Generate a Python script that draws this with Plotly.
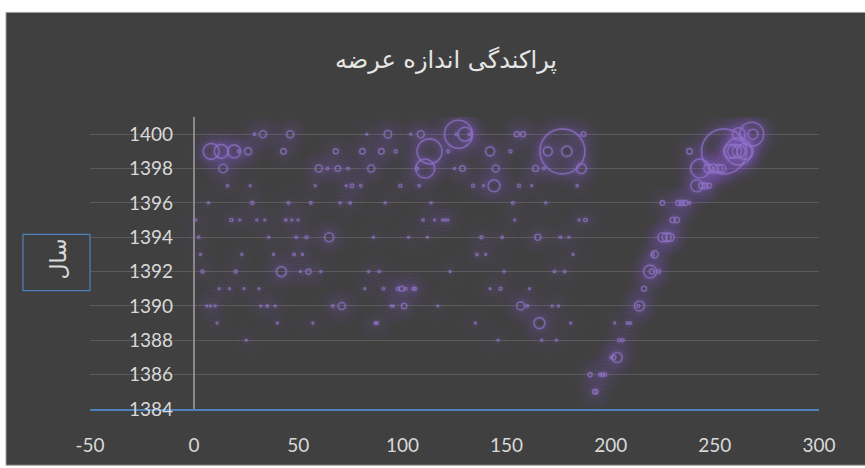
import plotly.graph_objects as go

# ---- data: supply position (x), year (y) and supply size (bubble value) ----
offer_x = [
    # 1400
    29.0, 33.0, 46.1, 82.9, 93.0, 104.0, 108.8, 126.9, 130.0, 125.9, 132.2,
    154.9, 157.9, 186.9, 261.5, 267.7, 268.3,
    # 1399
    8.2, 13.0, 19.2, 21.3, 25.9, 42.9, 68.0, 80.8, 89.9, 96.8, 113.0, 121.9,
    142.1, 151.9, 176.8, 169.8, 178.9, 237.8, 254.4, 261.3, 257.5, 259.5,
    261.5, 264.5,
    # 1398
    13.9, 59.8, 64.0, 69.0, 73.9, 85.0, 107.0, 110.9, 125.0, 128.8, 144.8,
    163.9, 167.9, 185.9, 242.9, 246.9, 249.3, 251.7, 253.3,
    # 1397
    16.0, 26.9, 58.1, 73.0, 75.8, 80.0, 99.0, 108.0, 133.9, 138.9, 144.0,
    156.0, 162.1, 183.9, 241.3, 243.7, 245.3, 247.2,
    # 1396
    6.9, 27.9, 45.3, 56.0, 70.1, 74.9, 91.7, 113.8, 153.0, 168.8, 224.8,
    232.5, 234.1, 235.7, 237.8,
    # 1395
    0.8, 17.9, 21.9, 30.1, 33.9, 44.0, 46.9, 49.9, 109.9, 115.4, 119.2,
    120.5, 121.8, 153.9, 184.8, 187.9, 229.8, 231.7,
    # 1394
    2.1, 35.8, 49.0, 53.9, 64.8, 86.1, 102.9, 112.0, 137.9, 147.9, 165.0,
    175.9, 179.9, 224.8, 226.9, 228.5,
    # 1393
    3.0, 22.9, 38.1, 48.0, 52.0, 135.8, 140.0, 181.9, 221.1, 220.3,
    # 1392
    4.0, 20.0, 41.9, 51.0, 54.9, 60.8, 83.8, 88.8, 122.9, 148.8, 173.0,
    177.9, 218.9, 219.7, 223.1,
    # 1391
    12.0, 17.0, 23.9, 31.1, 81.9, 90.9, 97.8, 99.7, 101.6, 105.3, 106.1,
    142.1, 147.1, 161.0, 216.0,
    # 1390
    6.1, 7.9, 10.1, 32.0, 35.1, 38.9, 66.5, 70.9, 94.6, 95.7, 100.8, 117.0,
    156.8, 160.0, 171.9, 174.9, 213.8, 213.3,
    # 1389
    11.0, 39.9, 57.0, 87.0, 87.8, 135.0, 165.8, 180.8, 201.9, 208.0, 209.5,
    # 1388
    25.0, 145.9, 166.9, 173.9, 204.0, 205.8,
    # 1387
    200.2, 203.1, 201.5,
    # 1386
    190.1, 194.9, 196.0, 197.3,
    # 1385
    192.5, 193.0,
]

years = (
    [1400] * 17 + [1399] * 24 + [1398] * 19 + [1397] * 18 + [1396] * 15
    + [1395] * 18 + [1394] * 16 + [1393] * 10 + [1392] * 15 + [1391] * 15
    + [1390] * 18 + [1389] * 11 + [1388] * 6 + [1387] * 3 + [1386] * 4
    + [1385] * 2
)

offer_size = [
    # 1400
    6, 49, 49, 1, 56, 2, 49, 784, 196, 6, 6, 25, 25, 20, 169, 576, 100,
    # 1399
    256, 196, 169, 6, 49, 30, 25, 30, 30, 9, 625, 9, 81, 9, 2025, 81, 110,
    30, 2025, 729, 196, 196, 169, 256,
    # 1398
    72, 49, 6, 30, 6, 49, 9, 361, 2, 30, 49, 36, 6, 100, 361, 81, 81, 64, 64,
    # 1397
    6, 2, 2, 4, 12, 6, 9, 6, 9, 2, 144, 9, 2, 6, 144, 36, 36, 25,
    # 1396
    1, 9, 6, 6, 1, 6, 1, 1, 6, 1, 20, 25, 25, 25, 6,
    # 1395
    2, 9, 2, 1, 2, 6, 2, 2, 6, 2, 2, 2, 2, 2, 1, 12, 30, 30,
    # 1394
    6, 4, 6, 9, 81, 1, 1, 2, 9, 6, 36, 6, 1, 81, 81, 64,
    # 1393
    4, 1, 1, 6, 2, 6, 2, 1, 49, 9,
    # 1392
    9, 9, 100, 4, 25, 2, 1, 6, 1, 1, 6, 6, 169, 25, 12,
    # 1391
    1, 1, 1, 1, 1, 6, 9, 25, 6, 9, 9, 1, 9, 1, 25,
    # 1390
    1, 1, 1, 4, 6, 4, 6, 49, 1, 1, 30, 1, 64, 6, 1, 1, 100, 9,
    # 1389
    1, 4, 4, 6, 6, 4, 121, 1, 2, 6, 6,
    # 1388
    2, 1, 4, 4, 9, 9,
    # 1387
    6, 100, 16,
    # 1386
    16, 9, 9, 9,
    # 1385
    25, 9,
]

x_ticks = [-50, 0, 50, 100, 150, 200, 250, 300]
x_tick_text = ["-50", "0", "50", "100", "150", "200", "250", "300"]
y_ticks = [1384, 1386, 1388, 1390, 1392, 1394, 1396, 1398, 1400]

title_text = "پراکندگی اندازه عرضه"
y_title_text = "سال"

# ---- styling ----
W, H = 865, 468
L, R, T, B = 90, 46, 117, 55
PW, PH = W - L - R, H - T - B

BG = "#404040"
PURPLE = "#9473cc"
TXT = "#d9d9d9"
BLUE = "#4f81bd"
FONT = "Lato, 'Open Sans', sans-serif"
AR_FONT = "'DejaVu Sans', sans-serif"

max_px = 45
sizeref = 2.0 * max(offer_size) / (max_px ** 2)


def px_x(px):
    return (px - L) / PW


def px_y(py):
    return (H - B - py) / PH


fig = go.Figure()

# soft glow layers beneath the bubble outlines
for width, alpha in [(30, 0.05), (22, 0.065), (15, 0.08), (9, 0.1), (5, 0.13)]:
    fig.add_trace(go.Scatter(
        x=offer_x, y=years, mode="markers", hoverinfo="skip",
        marker=dict(size=offer_size, sizemode="area", sizeref=sizeref,
                    sizemin=1, color="rgba(0,0,0,0)",
                    line=dict(width=width, color=f"rgba(140,105,205,{alpha})")),
        showlegend=False,
    ))

fig.add_trace(go.Scatter(
    x=offer_x, y=years, mode="markers",
    marker=dict(size=offer_size, sizemode="area", sizeref=sizeref,
                sizemin=1, color="rgba(0,0,0,0)",
                line=dict(width=1.6, color=PURPLE)),
    showlegend=False,
))

shapes = [
    # chart background with thin light border
    dict(type="rect", xref="paper", yref="paper", layer="below",
         x0=px_x(6), x1=px_x(W + 2), y0=px_y(H + 2), y1=px_y(11),
         fillcolor=BG, line=dict(color="#a0a0a0", width=1)),
    # boxed y-axis title frame
    dict(type="rect", xref="paper", yref="paper",
         x0=px_x(23), x1=px_x(90), y0=px_y(293), y1=px_y(236),
         fillcolor="rgba(0,0,0,0)", line=dict(color=BLUE, width=1.2)),
]

fig.update_layout(
    width=W, height=H, autosize=False,
    margin=dict(l=L, r=R, t=T, b=B, pad=0),
    paper_bgcolor="white",
    plot_bgcolor="rgba(0,0,0,0)",
    shapes=shapes,
    title=dict(text=title_text, x=446 / W, xanchor="center",
               y=1 - 60 / H, yanchor="middle",
               font=dict(family=AR_FONT, size=24, color="#e6e6e6")),
    annotations=[dict(text=y_title_text, xref="paper", yref="paper",
                      x=px_x(44), y=px_y(261), showarrow=False,
                      textangle=-90,
                      font=dict(family=AR_FONT, size=22, color=TXT))],
    xaxis=dict(range=[-50, 300], tickvals=x_ticks, ticktext=x_tick_text,
               showgrid=False,
               zeroline=True, zerolinecolor="#8a8a8a", zerolinewidth=1.5,
               showline=True, linecolor=BLUE, linewidth=2, ticks="",
               ticklabelstandoff=18,
               tickfont=dict(family=FONT, size=19, color=TXT)),
    yaxis=dict(range=[1384, 1401], tickvals=y_ticks, showgrid=True,
               gridcolor="#5b5b5b", gridwidth=1, zeroline=False,
               showline=False, ticks="", anchor="free",
               position=px_x(173),
               tickfont=dict(family=FONT, size=19, color=TXT)),
)

fig.write_html("out.html")
